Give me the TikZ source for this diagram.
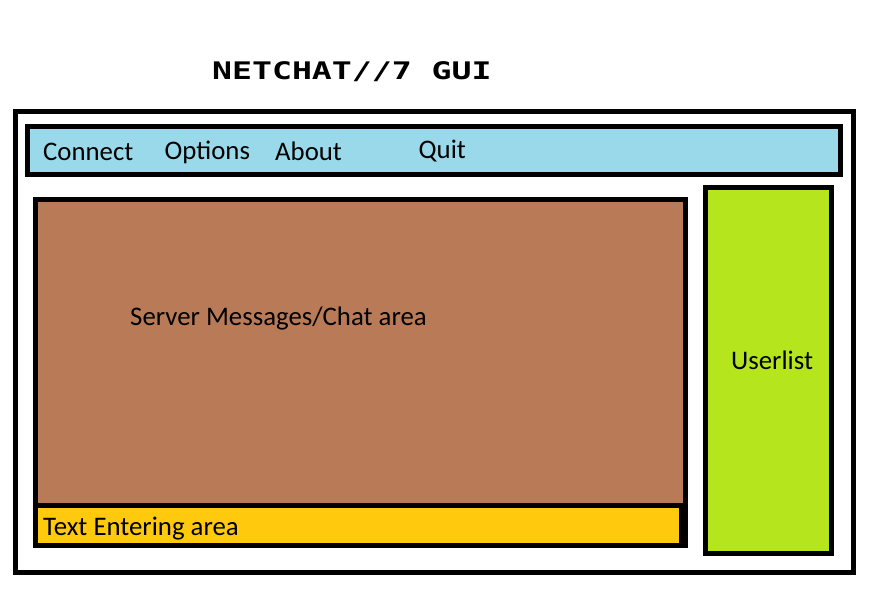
\documentclass[tikz,border=0pt]{standalone}
\usepackage{fontspec}
\setmainfont{Carlito}
\newfontfamily\titlefont{DejaVu Sans Mono}
\definecolor{menublue}{HTML}{99D9EA}
\definecolor{chatbrown}{HTML}{B97A57}
\definecolor{entryyellow}{HTML}{FFC90E}
\definecolor{usergreen}{HTML}{B5E61D}
\begin{document}
\begin{tikzpicture}[x=1pt,y=-1pt,
  box/.style={line width=5pt, draw=black},
  lbl/.style={font=\fontsize{26.8}{30}\selectfont, inner sep=0pt, anchor=base west}]
\useasboundingbox (0,0) rectangle (880,594);
\fill[white] (0,0) rectangle (880,594);
% window frame
\draw[box] (15.5,111.5) rectangle (853.5,572.5);
% menu bar
\draw[box, fill=menublue] (27.5,126) rectangle (840.5,174.5);
% chat area
\draw[box, fill=chatbrown] (35.5,199.5) rectangle (685.5,545);
% text entering area
\draw[box, fill=entryyellow] (35.5,505) rectangle (681.5,545);
% userlist
\draw[box, fill=usergreen] (705.5,187.5) rectangle (831.5,553.5);
% title
\node[inner sep=0pt, anchor=base west] (title) at (212,79.5)
  {\titlefont\bfseries\fontsize{24.2}{28}\selectfont\scalebox{1.37}[1]{NETCHAT//7 GUI}};
% menu items
\node[lbl] (connect) at (43,160) {Connect};
\node[lbl] (options) at (164.5,159) {Options};
\node[lbl] (about) at (275,160) {About};
\node[lbl] (quit) at (418.5,158) {Quit};
% area labels
\node[lbl] (chat) at (130,325) {Server Messages/Chat area};
\node[lbl] (users) at (731,369) {Userlist};
\node[lbl] (entry) at (43,535) {Text Entering area};
\end{tikzpicture}
\end{document}
